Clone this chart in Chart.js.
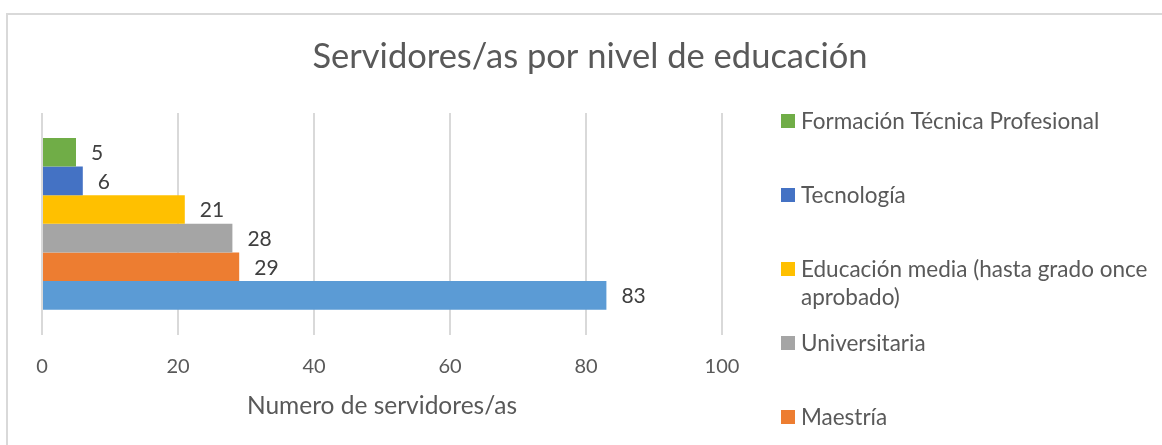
<!DOCTYPE html>
<html>
<head>
<meta charset="utf-8">
<script src="https://cdn.jsdelivr.net/npm/chart.js@4/dist/chart.umd.min.js"></script>
<style>
  body { margin: 0; background: #fff; overflow: hidden; }
  #frame {
    position: absolute; left: 6px; top: 13px; width: 1300px; height: 600px;
    border: 2px solid #d9d9d9; pointer-events: none;
  }
</style>
</head>
<body>
<canvas id="educacionChart" width="1162" height="445"></canvas>
<div id="frame"></div>
<script>
const titulo = "Servidores/as por nivel de educación";
const niveles = [
  "Formación Técnica Profesional",
  "Tecnología",
  ["Educación media (hasta grado once", "aprobado)"],
  "Universitaria",
  "Maestría",
  "Especialización",
];
const servidores = [5, 6, 21, 28, 29, 83];
const colores = ["#70ad47", "#4472c4", "#ffc000", "#a5a5a5", "#ed7d31", "#5b9bd5"];
const xTicks = [0, 20, 40, 60, 80, 100];

const FONT = "Lato";
const textColor = "#595959";

// one bar per dataset, all in the same (empty) category
const datasets = niveles.map((nivel, i) => ({
  label: nivel,
  data: [servidores[i]],
  backgroundColor: colores[i],
  borderWidth: 0,
  barPercentage: 1,
  categoryPercentage: 0.775,
}));

// title centred on the whole frame, not just the plot
const frameTitle = {
  id: "frameTitle",
  afterDraw(chart) {
    const ctx = chart.ctx;
    ctx.save();
    ctx.font = "34.5px " + FONT;
    ctx.fillStyle = textColor;
    ctx.textAlign = "center";
    ctx.textBaseline = "middle";
    ctx.fillText(titulo, 590, 57);
    ctx.restore();
  },
};

// value printed to the right of each bar
const valueLabels = {
  id: "valueLabels",
  afterDatasetsDraw(chart) {
    const ctx = chart.ctx;
    ctx.save();
    ctx.font = "21px " + FONT;
    ctx.fillStyle = "#404040";
    ctx.textAlign = "left";
    ctx.textBaseline = "middle";
    chart.data.datasets.forEach((ds, i) => {
      chart.getDatasetMeta(i).data.forEach((bar, j) => {
        ctx.fillText(ds.data[j], bar.x + 15, bar.y + 1);
      });
    });
    ctx.restore();
  },
};

// legend on the right, like the spreadsheet one (one item every 74px)
const sideLegend = {
  id: "sideLegend",
  afterDraw(chart) {
    const ctx = chart.ctx;
    const boxX = 781, textX = 801, firstY = 121, step = 74, lineH = 28;
    ctx.save();
    ctx.font = "22.5px " + FONT;
    ctx.textAlign = "left";
    ctx.textBaseline = "middle";
    chart.data.datasets.forEach((ds, i) => {
      const y = firstY + step * i;
      ctx.fillStyle = ds.backgroundColor;
      ctx.fillRect(boxX, y - 7, 14, 14);
      ctx.fillStyle = textColor;
      const lines = Array.isArray(ds.label) ? ds.label : [ds.label];
      lines.forEach((line, k) => ctx.fillText(line, textX, y + 1 + k * lineH));
    });
    ctx.restore();
  },
};

new Chart(document.getElementById("educacionChart"), {
  type: "bar",
  data: { labels: [""], datasets: datasets },
  plugins: [frameTitle, valueLabels, sideLegend],
  options: {
    indexAxis: "y",
    responsive: false,
    animation: false,
    devicePixelRatio: 1,
    layout: { padding: { left: 42, right: 440, top: 113, bottom: 24 } },
    plugins: {
      legend: { display: false },
      tooltip: { enabled: false },
      title: { display: false },
    },
    scales: {
      x: {
        min: 0,
        max: 100,
        afterBuildTicks(scale) {
          scale.ticks = xTicks.map((v) => ({ value: v }));
        },
        grid: { color: "#d9d9d9", lineWidth: 2, drawTicks: false },
        border: { display: false },
        ticks: {
          color: textColor,
          padding: 20,
          font: { family: FONT, size: 20, lineHeight: 1.2 },
        },
        title: {
          display: true,
          text: "Numero de servidores/as",
          color: textColor,
          font: { family: FONT, size: 24.5, lineHeight: 1.2 },
          padding: { top: -7, bottom: 0 },
        },
      },
      y: { display: false },
    },
  },
});
</script>
</body>
</html>
